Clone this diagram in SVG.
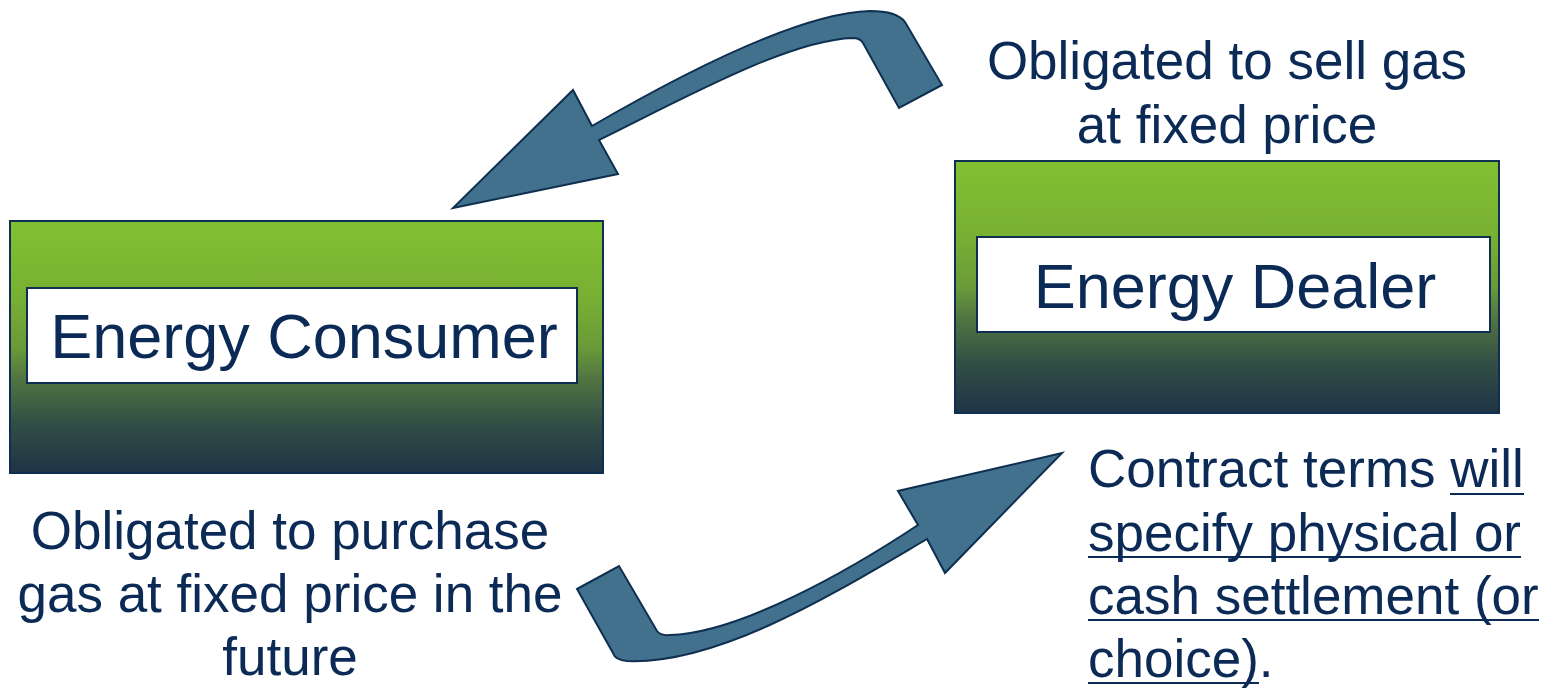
<svg xmlns="http://www.w3.org/2000/svg" width="1543" height="688" viewBox="0 0 1543 688">
<style>
.box{stroke:#0E2F50;stroke-width:2;fill:url(#g)}
.inner{fill:#fff;stroke:#0E2F50;stroke-width:2}
.arrow{fill:#41718C;stroke:#0E2F50;stroke-width:2;stroke-linejoin:miter}
text{font-family:"Liberation Sans",Arial,sans-serif;fill:#0B2A55}
.title{font-size:63px}
.lbl{font-size:53px}
.ul{stroke:#0B2A55;stroke-width:2.2}
</style>
<defs>
<linearGradient id="g" x1="0" y1="0" x2="0" y2="1">
<stop offset="0" stop-color="#81C032"/>
<stop offset="0.3" stop-color="#78B033"/>
<stop offset="0.5" stop-color="#6A9A38"/>
<stop offset="0.62" stop-color="#527642"/>
<stop offset="0.8" stop-color="#324F45"/>
<stop offset="1" stop-color="#1F3346"/>
</linearGradient>
</defs>
<g id="connectors">
<path class="arrow" d="M 453,208 L 618,174 L 599,140 C 690,95 790,40 853,38 Q 860,38 863,43 L 899,108 L 942,85 L 905,22 Q 897,11 870,11 C 800,13 680,75 592,126 L 573,90 Z"/>
<path class="arrow" d="M 577,589 L 619,566 L 657,631 Q 661,636 670,635 C 740,633 850,570 918,525 L 898,491 L 1062,453 L 945,573 L 927,539 C 840,590 720,665 627,661 Q 615,660 613,653 Z"/>
</g>
<g id="consumer">
<rect class="box" x="10" y="221" width="593" height="252"/>
<rect class="inner" x="27" y="288" width="550" height="95"/>
<text class="title" x="304" y="358" text-anchor="middle">Energy Consumer</text>
</g>
<g id="dealer">
<rect class="box" x="955" y="161" width="544" height="252"/>
<rect class="inner" x="977" y="237" width="513" height="95"/>
<text class="title" x="1235" y="308" text-anchor="middle">Energy Dealer</text>
</g>
<g id="label-sell">
<text class="lbl" text-anchor="middle"><tspan x="1227" y="79">Obligated to sell gas</tspan><tspan x="1227" y="143">at fixed price</tspan></text>
</g>
<g id="label-purchase">
<text class="lbl" text-anchor="middle"><tspan x="290" y="549">Obligated to purchase</tspan><tspan x="290" y="612">gas at fixed price in the</tspan><tspan x="290" y="675">future</tspan></text>
</g>
<g id="label-contract">
<text class="lbl"><tspan x="1088" y="487">Contract terms will</tspan><tspan x="1088" y="551">specify physical or</tspan><tspan x="1088" y="614">cash settlement (or</tspan><tspan x="1088" y="677">choice).</tspan></text>
<line class="ul" x1="1450" y1="494" x2="1524" y2="494"/>
<line class="ul" x1="1088" y1="557" x2="1521" y2="557"/>
<line class="ul" x1="1088" y1="620" x2="1539" y2="620"/>
<line class="ul" x1="1088" y1="683" x2="1259" y2="683"/>
</g>
</svg>
